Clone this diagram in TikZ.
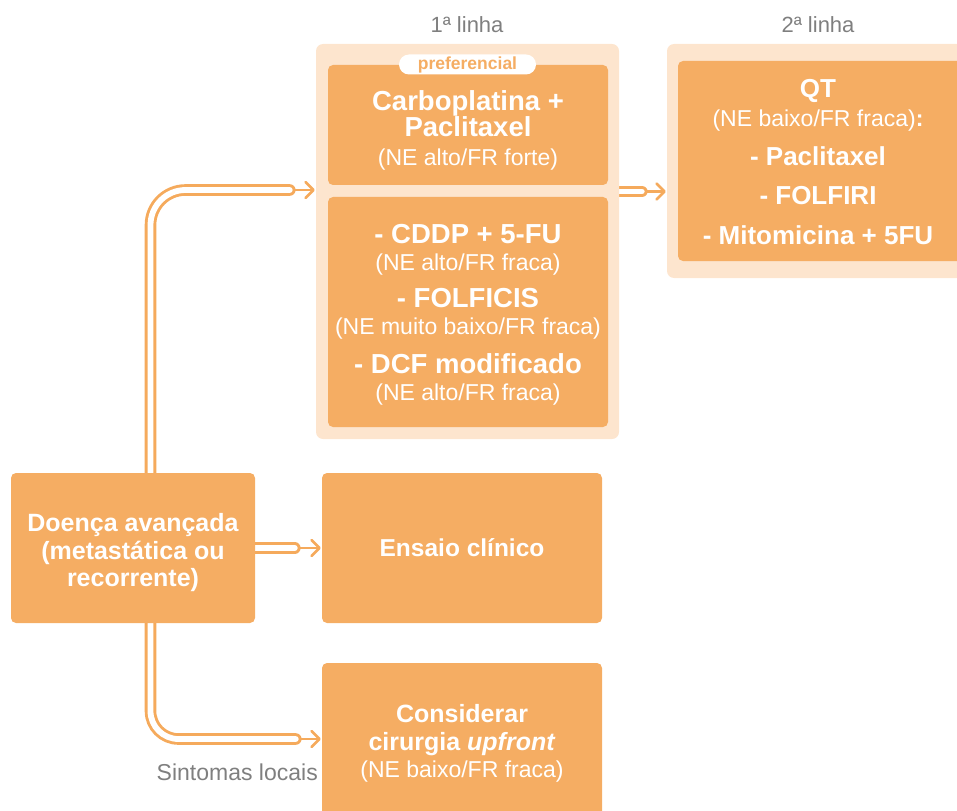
\documentclass[tikz,border=0pt]{standalone}
\usepackage{fontspec}
\setmainfont{Liberation Sans}
\usetikzlibrary{arrows.meta,backgrounds,calc}
\definecolor{boxor}{HTML}{F5AD63}
\definecolor{panelc}{HTML}{FDE5CE}
\definecolor{pipec}{HTML}{F5AA5C}
\definecolor{graytxt}{HTML}{7F7F7F}
\newcommand\Bf{\fontsize{25}{28}\selectfont\bfseries}
\newcommand\Bl{\fontsize{27.5}{28}\selectfont\bfseries}
\newcommand\Bm{\fontsize{26}{28}\selectfont\bfseries}
\newcommand\Rg{\fontsize{23}{28}\selectfont\mdseries}
\tikzset{
  box/.style={fill=boxor, rounded corners=5pt, inner sep=0pt},
  btext/.style={text=white, align=center, inner sep=0pt, font=\fontsize{23}{28}\selectfont},
  panel/.style={fill=panelc, rounded corners=7pt, inner sep=0pt},
  pipe/.style={draw=pipec, line width=2.9pt, double=white, double distance=5.8pt, line cap=round},
  arr/.style={draw=pipec, line width=2.6pt, line cap=round, -{Straight Barb[length=8pt,width=16pt,round]}},
  head/.style={text=graytxt, font=\fontsize{22}{26}\selectfont, inner sep=0pt}
}
\begin{document}
\begin{tikzpicture}[x=1pt,y=-1pt]
\useasboundingbox (0,0) rectangle (957,810);
\clip (0,0) rectangle (957,810);
% headers
\node[head] (h1) at (467,25) {1ª linha};
\node[head] (h2) at (818,25) {2ª linha};
% panels
\node[panel, minimum width=303pt, minimum height=395pt] (p1) at (467.5,241.5) {};
\node[panel, minimum width=310pt, minimum height=234pt] (p2) at (822,161) {};
% boxes
\node[box, minimum width=280pt, minimum height=120pt] (a) at (468,125) {};
\node[btext] (at) at ([yshift=-5pt]a.center)
  {{\Bl Carboplatina +}\\[-2pt]{\Bl Paclitaxel}\\[1pt]{\Rg (NE alto/FR forte)}};
\node[fill=white, rounded corners=10pt, minimum width=137pt, minimum height=20pt, inner sep=0pt,
  text=boxor, font=\fontsize{17.5}{18}\selectfont\bfseries] (pref) at (467.5,64.5) {preferencial};
\node[box, minimum width=280pt, minimum height=230pt] (b) at (468,312) {};
\node[btext] (bt) at ([yshift=-3pt]b.center)
  {{\Bl - CDDP + 5-FU}\\[-1pt]{\Rg (NE alto/FR fraca)}\\[9pt]{\Bl - FOLFICIS}\\[-1pt]{\Rg (NE muito baixo/FR fraca)}\\[11pt]{\Bl - DCF modificado}\\[-1pt]{\Rg (NE alto/FR fraca)}};
\node[box, minimum width=287pt, minimum height=200pt] (c) at (821.5,161) {};
\node[btext] (ct) at ([xshift=-3.5pt,yshift=-1pt]c.center)
  {{\Bm QT}\\[1pt]{\Rg (NE baixo/FR fraca)\textbf{:}}\\[11pt]{\Bm - Paclitaxel}\\[11pt]{\Bm - FOLFIRI}\\[12pt]{\Bm - Mitomicina + 5FU}};
\node[box, minimum width=244pt, minimum height=150pt] (d) at (133,548) {};
\node[btext] (dt) at ([yshift=-5pt]d.center)
  {{\Bf Doença avançada}\\[-0.5pt]{\Bf (metastática ou}\\[-0.5pt]{\Bf recorrente)}};
\node[box, minimum width=280pt, minimum height=150pt] (e) at (462,548) {};
\node[btext] (et) at (e.center) {{\fontsize{24.5}{28}\selectfont\bfseries Ensaio clínico}};
\node[box, minimum width=280pt, minimum height=160pt] (f) at (462,743) {};
\node[btext] (ft) at ([yshift=0pt]f.center)
  {{\Bf Considerar}\\[0pt]{\Bf cirurgia \textit{upfront}}\\[-1pt]{\Rg (NE baixo/FR fraca)}};
\node[text=graytxt, font=\fontsize{23}{28}\selectfont, anchor=east, inner sep=0pt] (s) at (318,772) {Sintomas locais};
% connectors
\coordinate (t1) at (p1.west |- 0,190);
\coordinate (t2) at (p2.west |- 0,191.5);
\coordinate (t3) at (e.west);
\coordinate (t4) at (f.west |- 0,739);
\begin{pgfonlayer}{background}
\draw[pipe, rounded corners=35pt] ([xshift=17.5pt]d.north) |- ([xshift=-26pt]t1);
\draw[arr] ([xshift=-21pt]t1) -- ([xshift=-1pt]t1);
\draw[pipe] (p1.east |- t2) -- ([xshift=-25pt]t2);
\draw[arr] ([xshift=-20pt]t2) -- ([xshift=-1pt]t2);
\draw[pipe] (d.east) -- ([xshift=-27pt]t3);
\draw[arr] ([xshift=-22pt]t3) -- ([xshift=-1pt]t3);
\draw[pipe, rounded corners=28pt] ([xshift=17.5pt]d.south) |- ([xshift=-26pt]t4);
\draw[arr] ([xshift=-21pt]t4) -- ([xshift=-1pt]t4);
\end{pgfonlayer}
\end{tikzpicture}
\end{document}
